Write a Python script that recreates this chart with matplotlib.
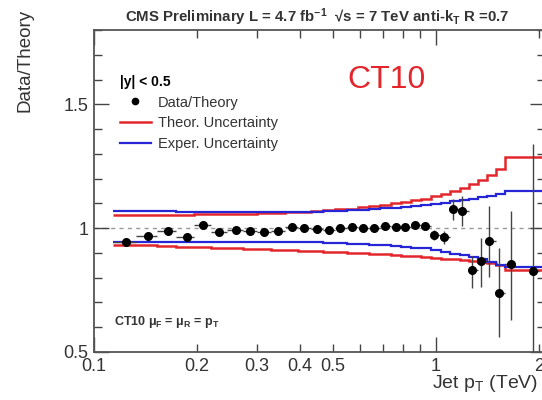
import numpy as np
import matplotlib
matplotlib.use("Agg")
import matplotlib.pyplot as plt
from matplotlib.lines import Line2D

plt.rcParams['font.family'] = ['Liberation Sans', 'DejaVu Sans']
plt.rcParams['mathtext.default'] = 'regular'

# jet pT bin edges (TeV)
bin_edges = [0.114, 0.133, 0.153, 0.174, 0.196, 0.220, 0.245, 0.272, 0.300,
             0.330, 0.362, 0.395, 0.430, 0.468, 0.507, 0.548, 0.592, 0.638,
             0.686, 0.737, 0.790, 0.846, 0.905, 0.967, 1.032, 1.101, 1.172,
             1.248, 1.327, 1.410, 1.497, 1.588, 1.684, 1.784, 1.890, 2.000,
             2.116]

# uncertainty bands per bin
theor_up = [1.052, 1.053, 1.054, 1.055, 1.056, 1.057, 1.058, 1.059, 1.061,
            1.062, 1.064, 1.067, 1.070, 1.073, 1.076, 1.079, 1.084, 1.089,
            1.095, 1.100, 1.106, 1.112, 1.119, 1.128, 1.138, 1.150, 1.163,
            1.180, 1.195, 1.213, 1.238, 1.287, 1.287, 1.287, 1.287, 1.287]
theor_dn = [0.932, 0.930, 0.928, 0.925, 0.923, 0.920, 0.918, 0.916, 0.914,
            0.912, 0.910, 0.908, 0.906, 0.904, 0.902, 0.900, 0.898, 0.896,
            0.894, 0.892, 0.889, 0.886, 0.883, 0.880, 0.877, 0.875, 0.872,
            0.868, 0.865, 0.860, 0.853, 0.832, 0.832, 0.832, 0.832, 0.832]
exper_up = [1.068, 1.068, 1.068, 1.067, 1.067, 1.067, 1.067, 1.066, 1.066,
            1.066, 1.066, 1.066, 1.067, 1.068, 1.070, 1.072, 1.074, 1.077,
            1.080, 1.083, 1.086, 1.089, 1.093, 1.098, 1.103, 1.108, 1.114,
            1.119, 1.125, 1.131, 1.136, 1.151, 1.151, 1.151, 1.151, 1.151]
exper_dn = [0.946, 0.946, 0.946, 0.946, 0.946, 0.946, 0.946, 0.946, 0.946,
            0.946, 0.946, 0.945, 0.943, 0.941, 0.939, 0.937, 0.935, 0.932,
            0.930, 0.927, 0.925, 0.921, 0.918, 0.912, 0.905, 0.897, 0.890,
            0.883, 0.875, 0.865, 0.853, 0.845, 0.845, 0.845, 0.845, 0.845]

# data / theory points
pt = [0.124, 0.144, 0.165, 0.187, 0.208, 0.232, 0.260, 0.286, 0.314, 0.345,
      0.379, 0.411, 0.449, 0.487, 0.524, 0.568, 0.612, 0.659, 0.710, 0.764,
      0.811, 0.868, 0.929, 0.987, 1.055, 1.121, 1.191, 1.274, 1.355, 1.429,
      1.528, 1.657, 1.921]
ratio = [0.943, 0.970, 0.990, 0.963, 1.014, 0.983, 0.993, 0.990, 0.983, 0.990,
         1.003, 1.002, 0.998, 0.994, 1.001, 1.003, 1.001, 1.001, 1.010, 1.006,
         1.003, 1.014, 1.010, 0.974, 0.963, 1.077, 1.070, 0.832, 0.869, 0.950,
         0.737, 0.857, 0.829]
err_lo = [0.005, 0.005, 0.005, 0.005, 0.005, 0.005, 0.005, 0.005, 0.005, 0.005,
          0.005, 0.005, 0.005, 0.005, 0.005, 0.005, 0.005, 0.006, 0.006, 0.007,
          0.007, 0.008, 0.012, 0.020, 0.025, 0.043, 0.060, 0.075, 0.108, 0.149,
          0.177, 0.228, 0.450]
err_hi = [0.005, 0.005, 0.005, 0.005, 0.005, 0.005, 0.005, 0.005, 0.005, 0.005,
          0.005, 0.005, 0.005, 0.005, 0.005, 0.005, 0.005, 0.006, 0.006, 0.007,
          0.007, 0.008, 0.012, 0.020, 0.025, 0.041, 0.060, 0.057, 0.093, 0.140,
          0.181, 0.213, 0.510]

RED = "#e2262c"
BLUE = "#2626d6"
W, H = 542, 400

fig = plt.figure(figsize=(W / 100, H / 100), dpi=100)
ax = fig.add_axes([94 / W, (H - 352) / H, (545 - 94) / W, (352 - 30) / H])

ax.stairs(theor_up, bin_edges, baseline=None, color=RED, lw=1.8)
ax.stairs(theor_dn, bin_edges, baseline=None, color=RED, lw=1.8)
ax.stairs(exper_up, bin_edges, baseline=None, color=BLUE, lw=1.6)
ax.stairs(exper_dn, bin_edges, baseline=None, color=BLUE, lw=1.6)

ax.axhline(1.0, color="#999999", lw=1, ls=(0, (3, 3)), zorder=1)

# x error bars span the pT bin of each point
edges = np.array(bin_edges)
idx = np.searchsorted(edges, pt) - 1
x = np.array(pt)
xerr = [x - edges[idx], edges[idx + 1] - x]
ax.errorbar(pt, ratio, yerr=[err_lo, err_hi], xerr=xerr, fmt="o", color="black",
            ms=5.5, ecolor="#444444", elinewidth=1, capsize=0, zorder=3)

ax.set_xscale("log")
ax.set_xlim(0.1, 2.083)
ax.set_ylim(0.5, 1.8)

ax.set_xticks([0.1, 1], labels=["0.1", "1"])
minor_x = [0.2, 0.3, 0.4, 0.5, 0.6, 0.7, 0.8, 0.9, 2]
ax.set_xticks(minor_x, labels=["0.2", "0.3", "0.4", "0.5", "", "", "", "", "2"],
              minor=True)
ax.set_yticks([0.5, 1.0, 1.5], labels=["0.5", "1", "1.5"])
ax.set_yticks(np.arange(0.6, 1.8, 0.1), minor=True)
ax.tick_params(which="both", direction="in", top=True, right=True,
               labelsize=13, colors="#444444", labelcolor="#333333", width=1)
ax.tick_params(which="major", length=11, pad=4)
ax.tick_params(which="minor", length=6, pad=4)
for s in ax.spines.values():
    s.set_color("#555555")
    s.set_linewidth(1.3)

fig.text(317 / W, 1 - 17 / H,
         "CMS Preliminary L = 4.7 fb$^{-1}$  √s = 7 TeV anti-k$_T$ R =0.7",
         ha="center", va="center", fontsize=10.8, fontweight="bold", color="#333333")
fig.text(25 / W, 1 - 9 / H, "Data/Theory", rotation=90, ha="center", va="top",
         fontsize=13.5, color="#333333")
fig.text(432 / W, 1 - 384 / H, "Jet p$_T$ (TeV)", ha="left", va="center",
         fontsize=14, color="#333333")
fig.text(347 / W, 1 - 80 / H, "CT10", ha="left", va="center", fontsize=23,
         color=RED)
fig.text(114 / W, 1 - 322 / H, "CT10 μ$_F$ = μ$_R$ = p$_T$", ha="left",
         va="center", fontsize=9, fontweight="bold", color="#333333")

handles = [Line2D([], [], ls="none", marker="o", color="black", ms=4.5),
           Line2D([], [], color=RED, lw=1.8),
           Line2D([], [], color=BLUE, lw=1.6)]
leg = ax.legend(handles, ["Data/Theory", "Theor. Uncertainty", "Exper. Uncertainty"],
                title="|y| < 0.5", loc="upper left",
                bbox_to_anchor=((120 - 94) / 451, 1 - (75 - 30) / 322),
                frameon=False, fontsize=10.5, handlelength=2.1,
                handletextpad=0.5, labelspacing=0.45, alignment="left",
                borderaxespad=0, borderpad=0,
                title_fontproperties={"weight": "bold", "size": 10})
for t in leg.get_texts():
    t.set_color("#333333")

fig.savefig("out.png", dpi=100)
